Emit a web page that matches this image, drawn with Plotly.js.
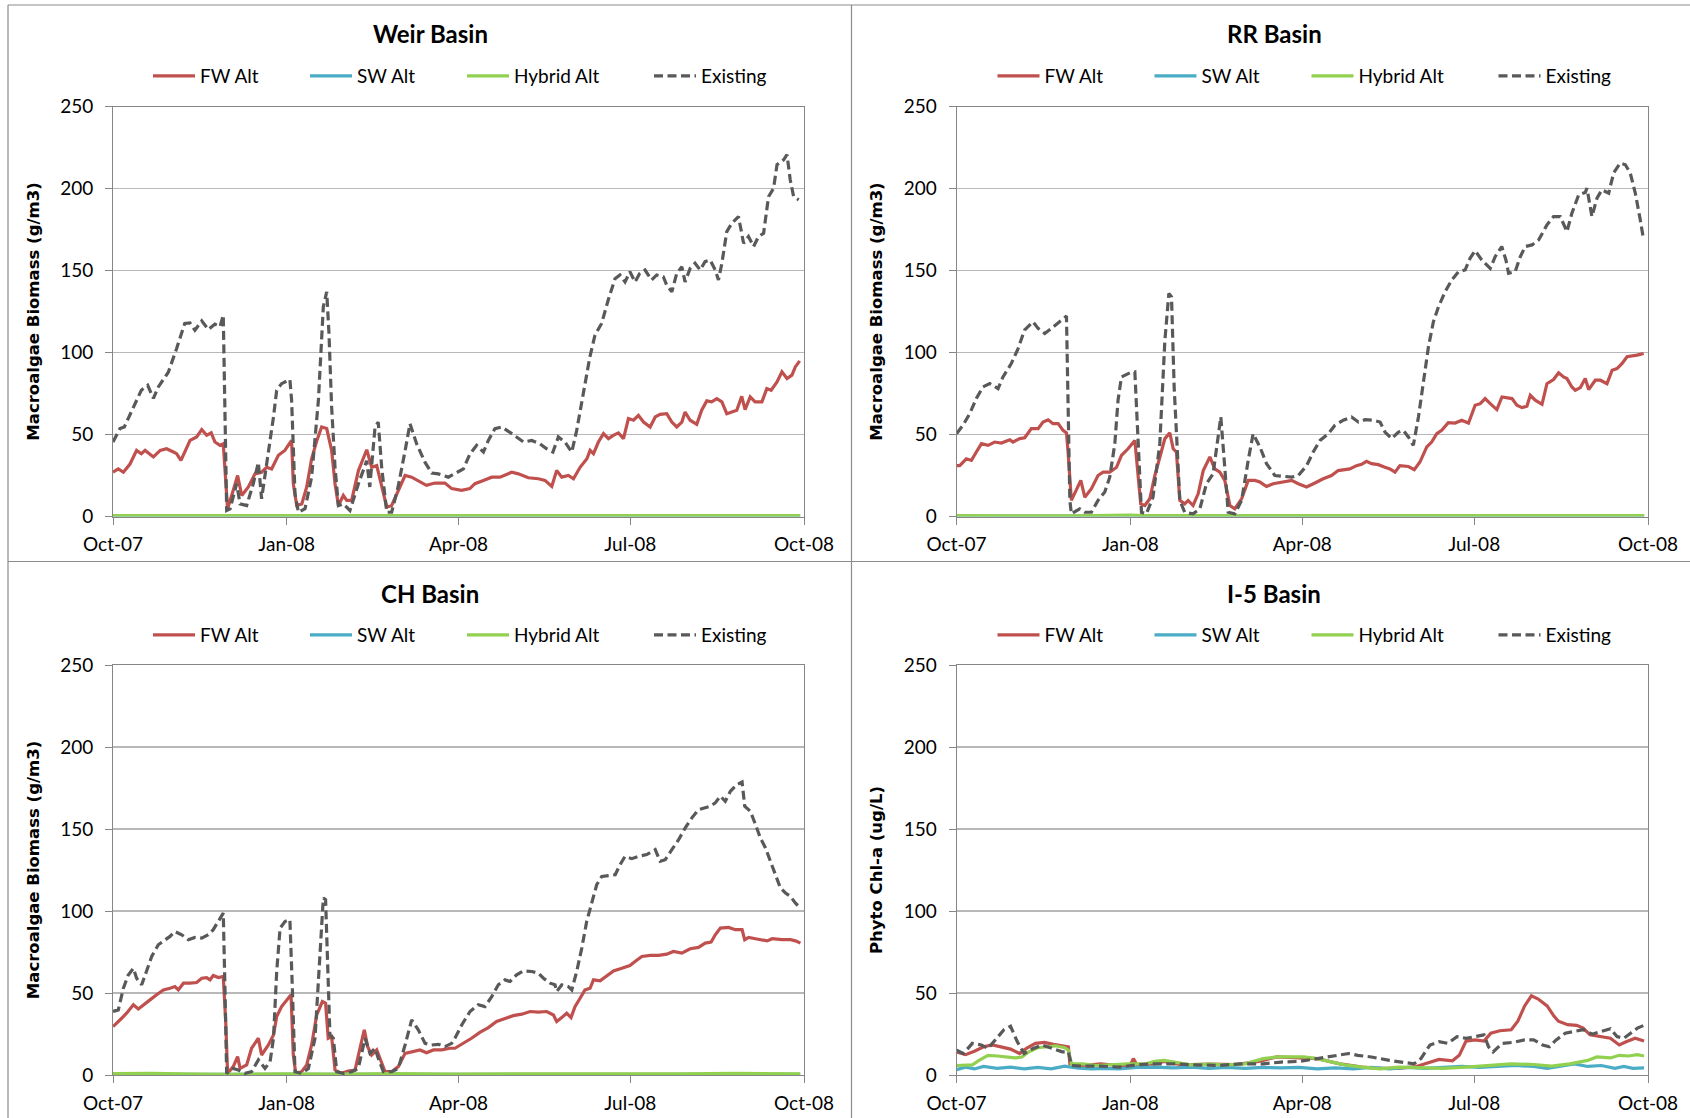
<!DOCTYPE html>
<html>
<head>
<meta charset="utf-8">
<script src="https://cdn.plot.ly/plotly-3.0.1.min.js"></script>
<style>html,body{margin:0;padding:0;background:#fff;}#chart{width:1690px;height:1118px;}</style>
</head>
<body>
<div id="chart"></div>
<script>
// ---------------- DATA (day offset from 2007-10-01, value) ----------------
const SERIES_NAMES = ["FW Alt", "SW Alt", "Hybrid Alt", "Existing"];
const PANEL_TITLES = ["Weir Basin", "RR Basin", "CH Basin", "I-5 Basin"];
const Y_TITLES = ["Macroalgae Biomass (g/m3)", "Macroalgae Biomass (g/m3)", "Macroalgae Biomass (g/m3)", "Phyto Chl-a (ug/L)"];
const X_TICK_DATES = ["2007-10-01", "2008-01-01", "2008-04-01", "2008-07-01", "2008-10-01"];
const Y_TICKS = [0, 50, 100, 150, 200, 250];

const weirFW = [[0,27],[2.8,29],[5.5,27],[9,32],[12.5,40.3],[15,38.3],[17,40.3],[21.4,36.3],[25,40.3],[28.4,41.3],[32,39.3],[33.7,38.3],[36,34.2],[38,39.3],[40.8,46.4],[44.3,48.5],[47,53],[49.6,49.5],[52,51],[54,45.4],[56.7,43.4],[58.4,44.4],[59.3,30],[60.7,4.7],[63.7,16],[66,25],[68.2,12.8],[71.7,18],[75.2,26],[78.7,27],[81.4,30],[84,29],[87.6,37.3],[91,40.3],[94.6,46.4],[95.5,20],[97.3,6.7],[100,7.7],[102.6,18],[105.2,35.2],[108,46.4],[110.5,54.6],[113.2,53.6],[115.8,40.3],[117.6,20],[119.4,6.7],[122,12.8],[123.8,9.8],[126.4,9.8],[130,28],[134.4,40.7],[137,30],[139.7,31],[142.3,18],[145,5.7],[147.6,6.7],[151,16],[154.7,25],[158.2,24],[162.6,21],[166,19],[170.5,20.4],[175.8,20.4],[179.4,17],[184.6,15.9],[189,17],[191.7,20],[196.2,22],[200.6,24],[205,24],[211.2,27],[214.7,26],[220,23.6],[225.3,23],[228.8,22],[232.4,18.3],[235,28],[237.7,24],[241.2,25],[243.9,23],[247.4,30],[251,35.2],[252.7,40.3],[254.5,38.3],[257.1,45.4],[259.8,50.5],[262.4,47.5],[265,49.5],[267.7,51],[270.4,47.5],[273,59.7],[275.7,58.7],[278.3,61.7],[281,57.6],[284.5,54.6],[287.2,60.7],[289.8,62.3],[293.3,62.7],[296,57.6],[298.6,54.6],[301.3,57.6],[303,63.7],[305.7,58.7],[309.2,56.2],[311.8,64.8],[314.5,70.5],[317.1,69.9],[319.8,71.9],[322.5,69.9],[325.1,62.7],[327.8,63.7],[330.4,64.8],[333,73.3],[334.8,65.2],[337.5,72.9],[340.1,69.9],[343.7,69.9],[346.3,78],[348.6,77],[351.7,82],[354.3,88.2],[357,84.1],[359.6,86.2],[361.4,91.2],[363.7,94.9]];
const weirSW = [[0,0.3],[45,0.3],[92,0.4],[140,0.3],[190,0.3],[240,0.3],[290,0.3],[340,0.3],[364,0.3]];
const weirHY = [[0,0.5],[30,0.5],[61,0.4],[95,0.8],[102,0.5],[150,0.5],[200,0.5],[250,0.5],[300,0.5],[364,0.5]];
const weirEX = [[0,45.4],[3.7,53.6],[6,54.6],[11.6,68.8],[15,77],[18.4,80],[21.4,72],[24,79],[29.3,88],[33.7,102.4],[38,117.7],[40.8,118],[43.4,113.6],[47,119.3],[50.5,114],[54,117.3],[56.7,115.7],[58.4,122.8],[60.2,3.7],[62,4.7],[65.5,20],[67.3,7.7],[70.8,6.7],[74.3,20],[77,33],[78.7,10.8],[82.3,38],[85,60.7],[86.7,77],[89.3,81],[93.7,83.5],[94.6,70.9],[96.4,13.8],[98.2,2.6],[101.7,4.7],[105.2,24],[108.8,70.9],[111.4,127.9],[113.2,137],[114.4,111.6],[115.8,66.8],[117.6,30],[119.4,6.7],[122,7.7],[125.5,3.7],[130,20],[134.4,34],[136,18],[138.8,54.6],[140.5,57.6],[142.3,30],[145,2.6],[147.6,2.6],[151,18],[154.7,40],[157.3,56.6],[160.8,44.4],[165.3,33],[168.8,26.5],[172.3,26],[177.6,24],[181,26],[185.6,29],[189,38],[192.6,43.4],[196.2,39.3],[198.8,46.4],[202.3,53.6],[205.9,54.6],[210,51.5],[214,48.5],[217.5,45.4],[221.8,46.4],[226,44.4],[229.7,41.3],[233,39.3],[235.9,48.5],[239.4,45.4],[243,39.3],[245.6,52.5],[249.1,75],[252.6,97.4],[255.3,110.6],[258.8,117.7],[262.3,132],[265.9,145],[268.5,147.3],[271.2,143],[273.8,149.3],[276.5,143],[279,148.3],[281.8,150.3],[285.3,144.2],[288,147.3],[291.5,146.2],[293.3,141],[296,137],[298.6,148.3],[301.3,152.3],[303,143],[305.7,151.3],[308.3,154.4],[311,150.3],[313.6,155.4],[316.3,156.4],[319,150.3],[320.7,144.2],[322.5,154.4],[325.1,173.7],[327.8,178.8],[331.3,182.9],[334,166.6],[336.6,170.7],[339.3,164.6],[341.9,170.7],[344.6,172.7],[347.2,195],[349.9,200.2],[351.7,214.5],[355.2,217.5],[357,220.6],[358.7,205.3],[360.5,195.1],[363.2,193.1]];

const rrFW = [[0,31],[1.7,31],[5.2,35.2],[7.9,34.2],[10.5,39.3],[13.2,44.4],[16.7,43.4],[20.2,45.4],[23.7,44.8],[28.2,46.8],[29.9,45.4],[33.5,47.5],[36.1,48],[39.6,53.6],[43.2,53.6],[45.8,57.6],[48.5,59],[51.1,56.6],[53.8,56.6],[56.4,52.5],[58.2,51],[59,40.3],[60.8,9.8],[63.5,16],[65.8,22],[67.9,11.8],[71.4,17],[74.9,25],[77.6,27],[81.1,27],[84.7,30],[87.3,37.3],[90.8,41.3],[94.4,46.4],[95.8,30],[97.5,7.7],[99.7,6.7],[102.3,10.8],[105,25],[107.6,35.2],[110.3,47.5],[112.9,51],[114.7,41.3],[116.4,39.3],[118.2,9.8],[120.8,7.7],[122.6,9.8],[125.2,6.7],[127.9,13.8],[130.6,28],[134.1,36.3],[136.7,29],[139.4,27],[142,22],[144.7,6.7],[147.3,4.7],[150.9,10.8],[154.4,22],[157.9,22],[160.6,21],[164.1,18.3],[167.6,20],[172,21],[177.4,22],[180.9,20],[185.3,18],[189.7,20.4],[194.1,23],[198.5,25],[202,28],[208.2,29],[211.7,31],[214.4,31.8],[217,33.6],[219.7,32.2],[223.2,31.6],[226.8,30],[229.4,29],[232.1,27],[234.7,31],[239.2,30.5],[242.3,28.5],[245.3,33.2],[248.9,42.4],[251.5,45.4],[254.2,50.5],[256.8,52.5],[260.3,57.2],[263.9,57],[267.4,58.7],[271,57],[274.5,67.8],[277.2,68.8],[279.8,71.9],[282.5,68.8],[286,65.2],[288.7,72.9],[291.3,72.3],[294,71.9],[296.6,67.8],[299.3,66.4],[301.9,67.2],[303.7,73.9],[306.3,70.9],[309.9,68.4],[312.5,81],[316,83.5],[318.7,87.6],[321.3,85.1],[323.1,84.1],[325.7,79],[327.5,77],[330.2,78.6],[332.8,84.1],[334.6,77.4],[338.1,83.1],[340.8,83.1],[344.3,81],[347,89.2],[349.6,90.2],[352.3,93.3],[354.9,97.4],[357.6,97.8],[360.2,98.4],[363.7,99.4]];
const rrSW = [[0,0.3],[45,0.3],[92,0.4],[140,0.3],[190,0.3],[240,0.3],[290,0.3],[340,0.3],[364,0.3]];
const rrHY = [[0,0.5],[40,0.5],[61,0.4],[92,0.9],[100,0.5],[150,0.5],[200,0.5],[250,0.5],[300,0.5],[364,0.5]];
const rrEX = [[0,50.5],[3.4,55.6],[7,62.7],[10.5,71.9],[14,79],[17.6,81],[22,78],[24.6,85.1],[29,93.3],[32.6,102.4],[36,113.6],[40.5,118.7],[43.2,114.7],[46.7,111.6],[50.2,114.7],[53.8,118.1],[58.2,122.2],[60,9.8],[60.8,1.6],[65.2,4.7],[67.9,2.6],[71.4,2.6],[74.9,9.8],[78.5,14.9],[81.1,24],[83.8,44.4],[85.5,70.9],[87.3,85.1],[91.7,87.6],[94.4,88.2],[96.1,50.5],[97.9,2.6],[100.5,1.6],[104,11.8],[107.6,44.4],[110.3,107.5],[112.4,136],[113.8,134],[115.2,79],[116.4,50.5],[118.2,9.8],[120.8,2.6],[125.2,1.6],[128.8,4.7],[132.3,20],[135.8,26],[138.5,50.5],[139.9,60.7],[141.7,34.2],[143.8,2.6],[147.3,1.6],[150.9,9.8],[154.4,34.2],[157,50.5],[160.6,42.4],[164.1,32.2],[168.5,25],[173,24.4],[177.4,24],[180.9,25],[185.3,31],[188.8,39.3],[192.4,46.4],[196.8,50.5],[200.3,55.6],[204.7,58.7],[209.1,60.7],[212.7,57.6],[216.2,59],[220.6,58.7],[224.2,57.6],[226.8,51.5],[230.3,47.5],[233.9,51.5],[236.5,52.5],[239.2,48.5],[241.8,43.4],[244.5,60.7],[247.1,83.1],[249.8,103.5],[252.4,118.7],[255.1,127.9],[258.6,137],[262.1,144.2],[265.7,149.3],[269.2,150.3],[271.8,157.4],[274.5,162.1],[278,156.4],[282.5,151.3],[285.1,158.4],[288.6,164.6],[290.8,156.4],[292.2,148.3],[295.7,149.3],[298.4,158.4],[301,164.6],[304.6,165.6],[308.1,168.6],[312.5,177.8],[316,182.9],[319.6,182.9],[323.1,173.7],[325.7,184.9],[329.3,196.1],[332.8,197.6],[333.7,200.2],[336.3,182.9],[339,194.1],[341.6,199.2],[345.2,197.1],[347.8,209.4],[351.3,215.5],[354,214.5],[356.6,209.4],[359.3,197.1],[361.9,180.9],[363.7,168.6]];

const chFW = [[0,29.5],[2,31.6],[4.6,34.6],[7.2,37.7],[10.8,42.8],[13.4,40.3],[16,42.8],[19.6,45.8],[23.1,48.9],[26.7,51.9],[30.2,52.9],[32.8,53.9],[34.6,51.9],[37.3,56],[40.8,56],[44.3,56.4],[47,59],[49.6,59.4],[51.4,58],[53.1,60.7],[55.8,59.4],[58.4,60.1],[59.7,32.6],[60.7,1],[63.7,5.1],[66,11.2],[67.3,4],[70.8,6.1],[73.4,16.3],[75.2,19.3],[77,22.4],[78.7,12.2],[82.3,18.3],[85,24.4],[86.7,35.6],[89.3,41.7],[92,45.8],[94.3,48.9],[95.5,12.2],[96.8,1],[99.9,2],[102.6,6.1],[105.2,18.3],[107.9,36.6],[110.9,44.8],[112.6,43.8],[114,22.4],[115.8,23.4],[117.6,3],[121.1,1],[124.6,2.4],[128.2,3],[130.8,16.3],[133.1,27.5],[134.9,17.3],[137,12.2],[139.7,15.3],[141.4,10.2],[144.1,2],[147.6,2],[151.1,5.1],[154.7,13.2],[158.2,14.3],[162.6,15.3],[166.1,13.6],[169.7,15.3],[174.1,15.3],[178.5,16.3],[181.1,16.3],[185.5,19.3],[189.9,22.4],[194.3,26],[198.8,28.9],[203.2,32.6],[207.6,34.6],[212,36.2],[216.5,37.1],[220.9,38.7],[225.3,38.3],[229.7,38.7],[233.3,36.6],[235,32.6],[237.7,35],[240.3,37.7],[242.6,35],[244.7,41.7],[247.4,46.8],[250,51.9],[252.7,52.9],[254.5,58],[258,57.4],[261.5,60.7],[265.1,63.5],[269.5,65.1],[273.8,66.8],[276.5,69.2],[280.1,72.3],[284.5,72.9],[288.9,72.9],[293.3,73.7],[296.8,75.3],[301.3,74.3],[305.7,77],[310.1,77.8],[313.7,80.4],[316.8,81],[319,85.5],[321.7,89.6],[326.1,90],[329.6,88.6],[333.2,88.6],[334.6,82.5],[336.7,83.9],[340.3,83.1],[343.8,82.5],[346.5,81.8],[349.1,83.1],[354.4,82.5],[358.8,82.5],[361.5,81.8],[364.1,80.4]];
const chSW = [[0,0.4],[45,0.4],[92,0.4],[140,0.4],[190,0.4],[240,0.4],[290,0.4],[340,0.4],[364,0.4]];
const chHY = [[0,0.8],[20,1.0],[45,0.6],[61,0.4],[90,0.7],[120,0.5],[150,0.8],[180,0.5],[210,0.7],[240,0.6],[270,0.9],[300,0.7],[330,1.0],[364,0.7]];
const chEX = [[0,38.7],[2.8,39.7],[5.5,52.9],[8.1,61],[10.8,65.1],[12.5,59],[15.2,55],[17.8,63.1],[20.5,72.3],[24,79.4],[27.5,82.5],[30.2,84.5],[32.8,87.5],[36.4,85.5],[39.9,82.5],[43.4,83.9],[47,83.5],[50.5,85.5],[53.1,88.6],[55.8,93.6],[58.4,98.7],[59.3,52.9],[60.2,1],[63.7,4],[66.4,3],[69.9,1],[73.4,2],[77,9.2],[80.5,4],[83.2,8.1],[85,22.4],[86.7,63.1],[88.5,89.6],[91.1,93.6],[93.7,94.7],[95,52.9],[96.4,2],[99.9,1],[103.5,4],[107,22.4],[109.6,73.3],[111.4,107.9],[112.6,106.9],[113.7,73.3],[114.9,24.4],[116.7,22.4],[118.5,2],[122,1],[126.4,2],[129.9,4],[133.5,22.4],[136.1,13.2],[138.8,16.3],[140.5,10.2],[143.2,2],[147.6,2],[151.1,4],[154.7,18.3],[158.2,33.6],[161.7,27.5],[165.3,19.3],[168.8,18.3],[172.3,18.7],[175.8,17.3],[179.4,19.3],[181.1,22.4],[184.7,30.5],[189.1,38.7],[193.5,42.8],[197,41.7],[200.6,47.8],[204.1,55],[207.6,58],[210.3,57],[213.8,61.1],[217.3,63.5],[221.8,63.1],[225.3,62.1],[228,59],[231.5,56],[234.1,55],[235,50.9],[237.7,55],[241.2,53.9],[243,51.9],[245.6,63.1],[248.3,77.4],[250.9,93.6],[253.6,104.8],[256.2,116],[258.9,121.1],[262.4,121.7],[266,122.1],[268.6,128.3],[271.2,133.3],[274.8,131.9],[278.3,133.3],[282.7,134.4],[287.2,137.4],[289.8,130.3],[292.5,131.3],[296,137.4],[299.6,143.5],[303.1,150.7],[306.6,156.8],[310.2,161.8],[313.7,162.9],[316.4,163.9],[319,165.9],[321.7,170],[324.3,166.9],[327,173],[330.5,177.1],[333.2,178.7],[334.6,163.9],[337.6,160.8],[340.3,152.7],[342.9,144.5],[345.6,138.4],[348.2,130.3],[350.9,122.1],[353.5,114],[356.2,111],[358.8,108.9],[361.5,104.8],[364.1,101.8]];

const i5FW = [[0,14.1],[4.8,12.4],[9.5,14.5],[14.3,17.2],[19,18.3],[23.9,17.2],[28.6,15.8],[33.4,13.1],[37,16.2],[41.8,19.3],[46.5,19.9],[51.3,18.7],[56,17.8],[59.2,17.2],[60,6.8],[66.8,5.8],[76.4,6.8],[86,5.8],[91.9,5.8],[93.6,10],[95.5,6.2],[105,6.8],[109.8,8.3],[119.3,6.2],[133.7,6.6],[148,6.4],[160,8.3],[169.5,11],[181.4,10.4],[191,10],[202.9,6.8],[214.8,4.8],[224.3,4.1],[233.9,4.1],[243.4,5.2],[250.6,7.9],[255.4,9.5],[262.5,8.7],[266.1,12],[269.7,20.7],[274.5,21.4],[279.2,20.7],[282.8,25.5],[287.6,27],[293.6,27.6],[297.1,32.8],[300.7,42.1],[304.3,48.3],[307.9,46.3],[312.6,42.1],[316.2,35.9],[318.6,32.8],[323.4,30.7],[328.2,30.3],[331.7,28.6],[335.3,24.5],[340.1,23.4],[346.1,22.4],[350.8,18.3],[354.4,20.3],[359.2,22.4],[363.9,20.7]];
const i5SW = [[0,3.3],[4.8,4.8],[9.5,3.7],[14.3,5.2],[21.5,4.1],[28.6,4.8],[35.8,3.7],[43,4.6],[50.1,3.7],[57.3,5.4],[64.4,4.1],[71.6,3.7],[78.8,4.1],[85.9,3.7],[95.5,4.6],[105,4.8],[114.6,4.4],[124.1,4.8],[133.7,4.1],[143.2,4.6],[152.7,4.1],[162.3,4.6],[171.8,4.4],[181.4,4.6],[190.9,3.7],[200.5,4.4],[210,3.7],[219.6,4.6],[229.1,3.7],[238.7,4.6],[248.2,4.1],[257.8,4.6],[267.3,5.2],[276.8,4.6],[286.4,5],[295.9,5.8],[305.5,5.2],[312.6,4.1],[319.8,5.4],[327,6.8],[334.1,5.2],[341.3,5.8],[348.5,4.1],[353.2,5.2],[358,4.1],[363.9,4.4]];
const i5HY = [[0,5.8],[4.8,6.2],[8.4,6.2],[11.9,8.9],[16.7,12],[21.5,11.6],[26.3,11],[31,10.4],[34.6,11],[38.2,14.1],[43,16.6],[47.7,17.2],[52.5,17.8],[57.3,16.6],[59.2,15.1],[60.9,6.8],[66.8,6.8],[74,5.8],[81.1,6.2],[90.7,6.8],[100.2,6.8],[105,8.3],[109.8,8.9],[116.9,7.5],[124.1,6.2],[133.7,6.6],[143.2,6.2],[152.7,6.8],[162.3,10],[169.5,11],[176.6,11],[183.8,11],[190.9,10],[198.1,8.3],[205.3,6.2],[214.8,4.8],[224.3,3.7],[233.9,4.8],[245.8,4.6],[257.8,4.1],[269.7,4.8],[281.6,5.8],[293.6,6.8],[305.5,6.4],[315,5.4],[324.6,6.8],[334.1,8.9],[338.9,11],[346.1,10.4],[350.8,12],[355.6,11.6],[360.4,12.4],[363.9,11.6]];
const i5EX = [[0,15.1],[3.6,13.1],[8.4,19.3],[13.1,18.3],[16.7,16.2],[20.3,21.4],[25.1,27.6],[28.6,29.7],[32.2,20.3],[35.8,13.1],[40.6,16.2],[45.3,18.3],[51.3,15.8],[56,14.1],[59.2,14.1],[60.9,5.8],[66.8,5.4],[76.4,5.4],[86,4.8],[95.5,6.2],[105,6.8],[114.6,6.8],[126.5,6.2],[138.4,5.8],[150.4,6.8],[162.3,6.8],[171.8,7.9],[181.4,8.3],[191,10],[200.5,12],[207.6,13.1],[212.4,12],[219.6,11],[229.1,8.9],[236.3,7.9],[242.2,6.8],[245.8,10],[250.6,18.3],[255.4,20.3],[260.1,19.3],[264.9,23.4],[269.7,22.4],[274.5,23.4],[279.2,24.5],[281.6,17.2],[284,14.1],[288.8,19.3],[294.7,19.9],[300.7,21.4],[305.5,21.4],[310.2,18.3],[313.8,17.2],[317.4,21.4],[322.2,25.5],[327,26.6],[331.7,27.6],[336.5,24.9],[341.3,26.6],[346.1,28.2],[349.6,23.4],[353.2,22.4],[356.8,25.5],[360.4,28.6],[363.9,30.3]];

const PANEL_DATA = [
  [weirFW, weirSW, weirHY, weirEX],
  [rrFW, rrSW, rrHY, rrEX],
  [chFW, chSW, chHY, chEX],
  [i5FW, i5SW, i5HY, i5EX]
];

// ---------------- STYLE ----------------
const COLORS = ["#C0504D", "#4BACC6", "#92D050", "#595959"];
const DASHES = ["solid", "solid", "solid", "9px,4.5px"];
const W = 1690, H = 1118;
const FONT = "Lato, 'Open Sans', sans-serif";
const AXCOL = "#868686";

const BASE = Date.UTC(2007, 9, 1);
function dayToDate(d) {
  return new Date(BASE + d * 86400000).toISOString().slice(0, 19).replace("T", " ");
}

// pixel boxes of plot areas [left, right, top, bottom]
const BOXES = [
  [113, 804, 106.5, 516.5],
  [956.5, 1648, 106.5, 516.5],
  [113, 804, 665, 1075],
  [956.5, 1648, 665, 1075]
];
const TITLE_POS = [[430, 34], [1274, 34], [430, 593], [1274, 593]];
const LEG_OFFS = [0, 157, 314, 501];
const LEG_START = [153, 997.5, 153, 997.5];
const LEG_Y = [76, 76, 635, 635];

const traces = [];
const layout = {
  width: W, height: H,
  margin: {l: 0, r: 0, t: 0, b: 0},
  paper_bgcolor: "#fff", plot_bgcolor: "#fff",
  font: {family: FONT, size: 19, color: "#000"},
  showlegend: true,
  annotations: [],
  shapes: []
};

BOXES.forEach((b, p) => {
  const sfx = p === 0 ? "" : String(p + 1);
  layout["xaxis" + sfx] = {
    type: "date",
    domain: [b[0] / W, b[1] / W],
    anchor: "y" + sfx,
    range: [X_TICK_DATES[0], X_TICK_DATES[X_TICK_DATES.length - 1]],
    tickvals: X_TICK_DATES,
    tickformat: "%b-%y",
    ticks: "outside", ticklen: 7, tickcolor: AXCOL, tickwidth: 1,
    ticklabelstandoff: 4,
    showline: true, linecolor: AXCOL, linewidth: 1, mirror: true,
    showgrid: false, zeroline: false, fixedrange: true,
    tickfont: {family: FONT, size: 19, color: "#000"}
  };
  layout["yaxis" + sfx] = {
    domain: [1 - b[3] / H, 1 - b[2] / H],
    anchor: "x" + sfx,
    range: [0, 250],
    tickvals: Y_TICKS,
    ticks: "outside", ticklen: 7, tickcolor: AXCOL, tickwidth: 1,
    ticklabelstandoff: 8,
    showline: true, linecolor: AXCOL, linewidth: 1, mirror: true,
    showgrid: true, gridcolor: "#B8B8B8", gridwidth: 1.3,
    zeroline: false, fixedrange: true,
    tickfont: {family: FONT, size: 19, color: "#000"},
    title: {text: Y_TITLES[p], standoff: 16,
            font: {family: "'DejaVu Sans', Verdana, sans-serif", size: 16.5, color: "#000", weight: "bold"}}
  };
  layout.annotations.push({
    text: PANEL_TITLES[p], xref: "paper", yref: "paper",
    x: TITLE_POS[p][0] / W, y: 1 - TITLE_POS[p][1] / H,
    xanchor: "center", yanchor: "middle", showarrow: false,
    font: {family: FONT, size: 24, color: "#000", weight: "bold"}
  });
  PANEL_DATA[p].forEach((series, s) => {
    const idx = p * 4 + s;
    const legKey = idx === 0 ? "legend" : "legend" + (idx + 1);
    layout[legKey] = {
      x: (LEG_START[p] + LEG_OFFS[s] - 5) / W, y: 1 - LEG_Y[p] / H,
      xanchor: "left", yanchor: "middle", orientation: "h",
      bgcolor: "rgba(0,0,0,0)", borderwidth: 0,
      itemwidth: 42,
      font: {family: FONT, size: 19, color: "#000"},
      itemclick: false, itemdoubleclick: false
    };
    traces.push({
      type: "scatter", mode: "lines",
      name: SERIES_NAMES[s],
      x: series.map(d => dayToDate(d[0])),
      y: series.map(d => d[1]),
      xaxis: "x" + sfx, yaxis: "y" + sfx,
      legend: legKey,
      line: {color: COLORS[s], width: 3.2, dash: DASHES[s]},
      hoverinfo: "skip"
    });
  });
});

// chart-area borders
const BCOL = "#8C8C8C";
[[8, 5, W, 5], [8, 561.5, W, 561.5], [8, 5, 8, H], [851.5, 5, 851.5, H]].forEach(l => {
  layout.shapes.push({type: "line", xref: "paper", yref: "paper",
    x0: l[0] / W, y0: 1 - l[1] / H, x1: l[2] / W, y1: 1 - l[3] / H,
    line: {color: BCOL, width: 1.2}});
});

Plotly.newPlot("chart", traces, layout, {staticPlot: true, displayModeBar: false});
</script>
</body>
</html>
